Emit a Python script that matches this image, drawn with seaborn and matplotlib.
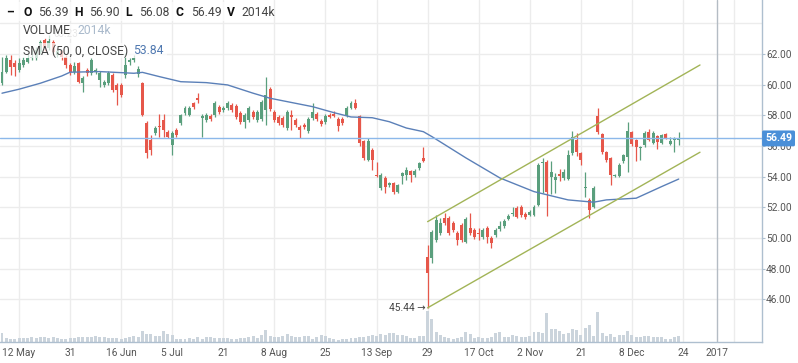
import numpy as np
import pandas as pd
import matplotlib
matplotlib.use("Agg")
import matplotlib.pyplot as plt
import matplotlib.transforms as mtransforms
from matplotlib.patches import Rectangle
import seaborn as sns

# Daily candles (trading-day index 0..159)
opens = [
    60.11, 60.83, 61.61, 61.41, 60.96, 61.28, 61.48, 61.74, 61.74, 62.13,
    62.91, 62.39, 62.78, 61.93, 62.20, 61.80, 61.28, 60.83, 61.41, 60.11,
    60.96, 60.76, 60.83, 60.30, 59.98, 60.11, 60.63, 59.98, 59.98, 60.63,
    61.48, 61.61, 60.70, 60.11, 57.48, 56.39, 56.85, 57.30, 57.69, 56.91,
    56.06, 57.04, 57.50, 58.15, 58.02, 58.80, 59.13, 57.83, 57.69, 57.96,
    58.02, 58.54, 58.35, 58.48, 58.67, 58.61, 58.15, 57.56, 57.69, 58.22,
    57.69, 57.76, 58.35, 59.72, 58.22, 57.89, 57.83, 57.17, 58.02, 57.69,
    57.24, 57.37, 56.98, 57.83, 58.10, 57.63, 57.56, 58.02, 58.10, 57.76,
    57.76, 57.96, 58.48, 58.80, 57.96, 56.33, 55.09, 55.74, 54.11, 53.26,
    53.91, 53.45, 53.58, 53.00, 54.04, 54.11, 54.37, 54.11, 54.56, 55.22,
    48.76, 48.69, 49.87, 50.32, 51.30, 51.30, 50.98, 50.32, 50.85, 49.74,
    50.65, 50.52, 50.30, 50.06, 50.65, 50.00, 50.19, 50.59, 50.78, 51.24,
    51.56, 51.95, 52.00, 51.56, 51.50, 51.50, 52.15, 54.89, 54.96, 53.98,
    53.78, 54.17, 53.91, 53.85, 55.54, 56.39, 55.54, 53.26, 52.48, 52.02,
    57.96, 56.78, 55.61, 55.22, 54.04, 54.04, 55.02, 55.28, 56.91, 56.39,
    55.87, 56.06, 56.91, 56.19, 56.65, 56.19, 56.78, 56.13, 56.39, 56.39,
]
highs = [
    61.80, 61.93, 61.93, 61.61, 61.74, 61.80, 62.00, 62.26, 62.45, 62.91,
    63.05, 63.23, 62.91, 62.39, 62.26, 61.93, 61.41, 61.48, 61.48, 60.56,
    61.09, 61.74, 61.09, 60.90, 60.30, 60.90, 60.76, 60.11, 60.11, 62.07,
    61.74, 61.93, 61.20, 60.17, 57.60, 56.72, 57.30, 58.10, 58.10, 57.04,
    57.00, 57.17, 58.10, 58.61, 58.61, 58.87, 59.46, 58.10, 58.15, 58.10,
    58.94, 58.67, 58.61, 58.94, 58.80, 58.74, 58.28, 58.15, 58.61, 58.35,
    58.35, 59.00, 60.50, 59.85, 58.35, 58.02, 57.96, 58.35, 58.35, 57.83,
    57.37, 57.50, 57.89, 58.80, 58.22, 57.76, 58.10, 58.15, 58.28, 57.89,
    57.89, 58.61, 58.94, 59.06, 58.02, 56.39, 56.50, 55.87, 54.96, 54.24,
    54.04, 53.65, 53.65, 53.52, 54.30, 54.63, 54.43, 54.50, 54.96, 55.93,
    49.54, 50.50, 51.50, 51.30, 51.63, 51.43, 51.10, 50.45, 50.98, 51.37,
    51.63, 50.65, 50.65, 50.65, 50.78, 50.13, 50.65, 51.10, 51.24, 51.56,
    52.00, 52.08, 52.13, 51.69, 51.82, 52.15, 54.89, 55.22, 55.10, 55.02,
    54.24, 54.50, 54.50, 55.74, 57.00, 56.85, 55.60, 54.30, 52.60, 53.40,
    58.48, 56.85, 55.70, 55.30, 54.20, 54.90, 55.50, 57.56, 57.00, 56.45,
    56.00, 56.95, 57.11, 56.95, 56.70, 56.80, 56.85, 56.59, 56.59, 56.90,
]
lows = [
    59.98, 60.76, 60.63, 60.56, 60.83, 61.15, 61.41, 61.61, 61.61, 62.00,
    62.20, 62.26, 61.93, 61.80, 61.61, 61.09, 60.63, 60.70, 60.11, 59.52,
    60.56, 60.63, 60.70, 59.85, 59.85, 60.00, 59.52, 58.67, 59.20, 60.40,
    61.28, 61.48, 60.50, 57.96, 55.22, 55.41, 56.72, 56.59, 56.59, 56.52,
    55.41, 56.59, 57.37, 58.02, 57.96, 58.41, 58.80, 56.59, 57.56, 57.63,
    57.89, 58.10, 58.22, 58.35, 58.22, 57.76, 57.43, 57.17, 57.56, 57.76,
    57.56, 57.63, 57.37, 58.28, 57.56, 57.37, 57.24, 57.04, 57.04, 57.24,
    56.52, 57.11, 56.85, 57.69, 57.63, 57.30, 57.43, 57.83, 57.89, 56.98,
    57.37, 57.89, 58.41, 58.41, 56.00, 55.09, 55.02, 54.43, 54.00, 53.13,
    52.93, 53.32, 52.87, 52.93, 53.52, 53.78, 53.65, 53.98, 54.43, 54.96,
    45.44, 48.37, 49.74, 50.20, 50.85, 50.19, 50.40, 49.54, 49.74, 49.67,
    50.19, 49.93, 49.87, 49.93, 49.67, 49.35, 50.06, 50.45, 50.65, 51.17,
    51.43, 51.30, 51.37, 51.24, 51.43, 51.43, 52.08, 52.93, 51.43, 52.87,
    52.93, 53.70, 53.78, 53.80, 55.41, 55.35, 54.76, 52.67, 51.30, 51.95,
    56.80, 55.50, 54.96, 53.45, 53.98, 53.98, 54.90, 54.30, 56.00, 55.02,
    55.09, 55.95, 56.30, 56.10, 55.80, 56.10, 56.45, 56.05, 55.60, 56.08,
]
closes = [
    60.83, 61.74, 61.15, 61.15, 61.41, 61.61, 61.74, 61.80, 62.26, 62.78,
    62.39, 62.85, 62.13, 62.20, 61.80, 61.28, 60.83, 61.22, 60.17, 60.43,
    60.76, 61.61, 60.96, 60.76, 60.17, 60.76, 59.65, 59.65, 59.33, 61.28,
    61.61, 61.74, 61.00, 58.02, 55.54, 55.74, 57.17, 57.24, 57.04, 56.59,
    56.85, 56.72, 58.02, 58.48, 58.48, 58.54, 59.00, 57.96, 58.02, 57.76,
    58.80, 58.22, 58.48, 58.80, 58.35, 57.89, 57.56, 58.02, 58.48, 57.89,
    58.22, 58.87, 59.33, 58.41, 57.69, 57.50, 57.37, 58.22, 57.89, 57.37,
    57.04, 57.24, 57.76, 58.22, 57.76, 57.43, 57.96, 57.89, 57.96, 57.30,
    57.50, 58.48, 58.80, 58.48, 56.19, 55.22, 56.33, 55.09, 54.04, 54.11,
    53.32, 53.58, 53.00, 53.45, 54.24, 54.43, 54.11, 54.37, 54.89, 55.02,
    47.72, 50.39, 51.17, 50.98, 50.98, 50.32, 50.52, 49.87, 49.87, 51.24,
    50.32, 50.06, 50.26, 50.52, 50.06, 49.67, 50.52, 50.78, 51.10, 51.43,
    51.63, 51.37, 51.50, 51.37, 51.69, 52.02, 54.76, 54.96, 53.00, 54.30,
    53.98, 54.04, 54.30, 55.41, 56.58, 55.61, 55.09, 53.32, 51.82, 53.26,
    56.91, 55.61, 55.09, 54.11, 54.11, 54.76, 55.41, 57.00, 56.13, 55.93,
    55.93, 56.85, 56.39, 56.85, 56.26, 56.72, 56.52, 56.33, 56.45, 56.49,
]
# volume in thousands
volumes = [
    3020, 1340, 1120, 1010, 1230, 1340, 1340, 1570, 1460, 1790,
    1570, 1230, 1570, 1230, 1010, 1010, 1460, 1230, 1570, 1790,
    1570, 1790, 1900, 1790, 1570, 1460, 1460, 1460, 1010, 1230,
    1570, 1900, 1570, 3580, 2580, 2580, 2130, 2130, 3580, 2580,
    2350, 1010, 1120, 1120, 1230, 1120, 1680, 1120, 1790, 1680,
    1460, 1460, 1230, 1230, 1120, 1120, 1230, 1460, 1570, 1900,
    1460, 2350, 3920, 1900, 1790, 1680, 1900, 2580, 1900, 1680,
    1570, 1900, 1900, 1120, 1570, 2240, 2020, 1460, 1010, 560,
    900, 1120, 1230, 1230, 1570, 1680, 1900, 2240, 1900, 2580,
    2350, 3020, 2910, 2460, 2240, 1900, 1460, 1230, 2130, 2130,
    10500, 7840, 3250, 2350, 1570, 1340, 1120, 1340, 1790, 3470,
    2690, 1230, 1790, 1230, 1230, 1790, 2910, 3360, 1570, 1570,
    2460, 1900, 1680, 1790, 2130, 3250, 3470, 3020, 9860, 4260,
    4260, 3810, 2690, 3140, 4370, 4140, 2460, 4820, 5600, 1900,
    10190, 3140, 1900, 2580, 1790, 2460, 2240, 3810, 2240, 1570,
    1570, 2130, 1900, 1680, 1680, 1680, 1120, 900, 1790, 2014,
]

# SMA(50)
sma_idx = [0, 4, 9, 14, 16, 23, 31, 33, 37, 42, 48, 53, 59, 63, 73, 78, 82, 87,
           91, 95, 99, 101, 109, 117, 125, 133, 139, 142, 149, 155, 159]
sma_val = [59.44, 59.70, 60.09, 60.56, 60.81, 60.85, 60.74, 60.80, 60.52, 60.19,
           60.13, 59.98, 59.44, 59.11, 58.56, 58.17, 57.89, 57.84, 57.58, 57.17,
           56.93, 56.61, 55.22, 53.91, 53.02, 52.48, 52.33, 52.48, 52.59, 53.35, 53.84]

# trend channel
channel_idx = [100, 164]
channel_upper = [51.06, 61.28]
channel_lower = [45.44, 55.59]

tick_pos = [4, 16, 28, 40, 52, 64, 76, 88, 100, 112, 124, 136, 148, 160, 168]
tick_labels = ["12 May", "31", "16 Jun", "5 Jul", "21", "8 Aug", "25", "13 Sep",
               "29", "17 Oct", "2 Nov", "21", "8 Dec", "24", "2017"]
price_ticks = [46, 48, 50, 52, 54, 56, 58, 60, 62]
last_price = 56.49
high_mark = (11, 63.23)
low_mark = (100, 45.44)

df = pd.DataFrame({"open": opens, "high": highs, "low": lows, "close": closes, "volume": volumes})
df["idx"] = np.arange(len(df))
df["up"] = df["close"] >= df["open"]

GREEN = "#5a9f7d"
RED = "#e6574a"
VOL = "#cbd4dc"
GRID = "#ececec"
SPINE = "#aebfcf"
TEXT = "#555555"

sns.set_theme(style="white")
plt.rcParams["font.family"] = ["Roboto", "DejaVu Sans"]

W, H = 798, 363
fig = plt.figure(figsize=(W / 100, H / 100), dpi=100)
rect = [0, 21 / H, 762 / W, 342 / H]
xlim = (-0.47, 178.57)
ylim = (43.21, 65.52)

# background grid
ax_bg = fig.add_axes(rect)
ax_bg.set_xlim(*xlim)
ax_bg.set_ylim(*ylim)
for p in price_ticks + [64]:
    ax_bg.axhline(p, color=GRID, lw=1)
for t in tick_pos[:-1] + [172]:
    ax_bg.axvline(t, color=GRID, lw=1)
ax_bg.axvline(168, color="#b4bcc4", lw=1)
ax_bg.axis("off")

# volume
axv = fig.add_axes(rect, facecolor="none")
axv.bar(df["idx"], df["volume"], width=0.7, color=VOL, linewidth=0)
axv.set_xlim(*xlim)
axv.set_ylim(0, 115000)
axv.axis("off")

# price
ax = fig.add_axes(rect, facecolor="none")
ax.set_xlim(*xlim)
ax.set_ylim(*ylim)
colors = np.where(df["up"], GREEN, RED)
ax.vlines(df["idx"], df["low"], df["high"], colors=colors, lw=0.9, zorder=3)
body_low = df[["open", "close"]].min(axis=1)
body_h = (df["close"] - df["open"]).abs().clip(lower=0.04)
ax.bar(df["idx"], body_h, bottom=body_low, width=0.7, color=colors, linewidth=0, zorder=3)

sns.lineplot(x=sma_idx, y=sma_val, ax=ax, color="#5b80b8", lw=1.0, zorder=4)
sns.lineplot(x=channel_idx, y=channel_upper, ax=ax, color="#a2b457", lw=1, zorder=4)
sns.lineplot(x=channel_idx, y=channel_lower, ax=ax, color="#a2b457", lw=1, zorder=4)
ax.axhline(last_price, color="#8cb8ea", lw=1, zorder=5)

ax.text(low_mark[0] - 0.5, low_mark[1], "45.44 \u2192", ha="right", va="center",
        fontsize=7.3, color="#444444", zorder=6)
ax.text(high_mark[0] + 1.0, high_mark[1] + 0.1, "63.23", ha="left", va="center",
        fontsize=7.0, color="#777777", alpha=0.6, zorder=6)

# axes styling
for s in ["top", "left"]:
    ax.spines[s].set_visible(False)
for s in ["right", "bottom"]:
    ax.spines[s].set_color(SPINE)
    ax.spines[s].set_linewidth(1)
ax.yaxis.tick_right()
ax.set_yticks(price_ticks)
ax.set_yticklabels([f"{p:.2f}" for p in price_ticks])
ax.tick_params(axis="y", length=2.4, width=0.8, color=SPINE, pad=0.5,
               labelsize=7.3, labelcolor=TEXT)
ax.set_xticks(tick_pos)
ax.set_xticklabels(tick_labels)
ax.tick_params(axis="x", length=0, pad=4.5, labelsize=7.3, labelcolor=TEXT)
ax.grid(False)

# last price tag
trans = mtransforms.blended_transform_factory(ax.transAxes, ax.transData)
ax.text(1.004, last_price, "56.49", transform=trans, ha="left", va="center",
        fontsize=7.6, fontweight="bold", color="white", zorder=7,
        bbox=dict(boxstyle="round,pad=0.28,rounding_size=0.15", fc="#4a8fd8", ec="none"))


def px(x, y):
    return x / W, 1 - y / H


# semi-transparent legend strips
for x0, y0, w, h in [(0, 2, 262, 19), (20, 24, 93, 15), (20, 43, 147, 15)]:
    fx, fy = px(x0, y0 + h)
    fig.patches.append(Rectangle((fx, fy), w / W, h / H, transform=fig.transFigure,
                                 fc="white", ec="none", alpha=0.72, zorder=1))

row1 = [("\u2013", 6, True), ("O", 23, True), ("56.39", 38, False), ("H", 74, True),
        ("56.90", 89, False), ("L", 125, True), ("56.08", 139, False), ("C", 176, True),
        ("56.49", 191, False), ("V", 227, True), ("2014k", 241, False)]
for txt, x, bold in row1:
    fig.text(*px(x, 12), txt, fontsize=8.7, va="center", ha="left",
             fontweight="bold" if bold else "normal",
             color="#111111" if bold else "#444444", zorder=3)
fig.text(*px(23, 31), "VOLUME", fontsize=8.7, va="center", color="#444444", zorder=3)
fig.text(*px(77, 31), "2014k", fontsize=8.7, va="center", color="#a9b9cb", zorder=3)
fig.text(*px(23, 51), "SMA (50, 0, CLOSE)", fontsize=8.7, va="center", color="#444444", zorder=3)
fig.text(*px(133, 51), "53.84", fontsize=8.7, va="center", color="#4f78b0", zorder=3)

fig.savefig("out.png", dpi=100)
